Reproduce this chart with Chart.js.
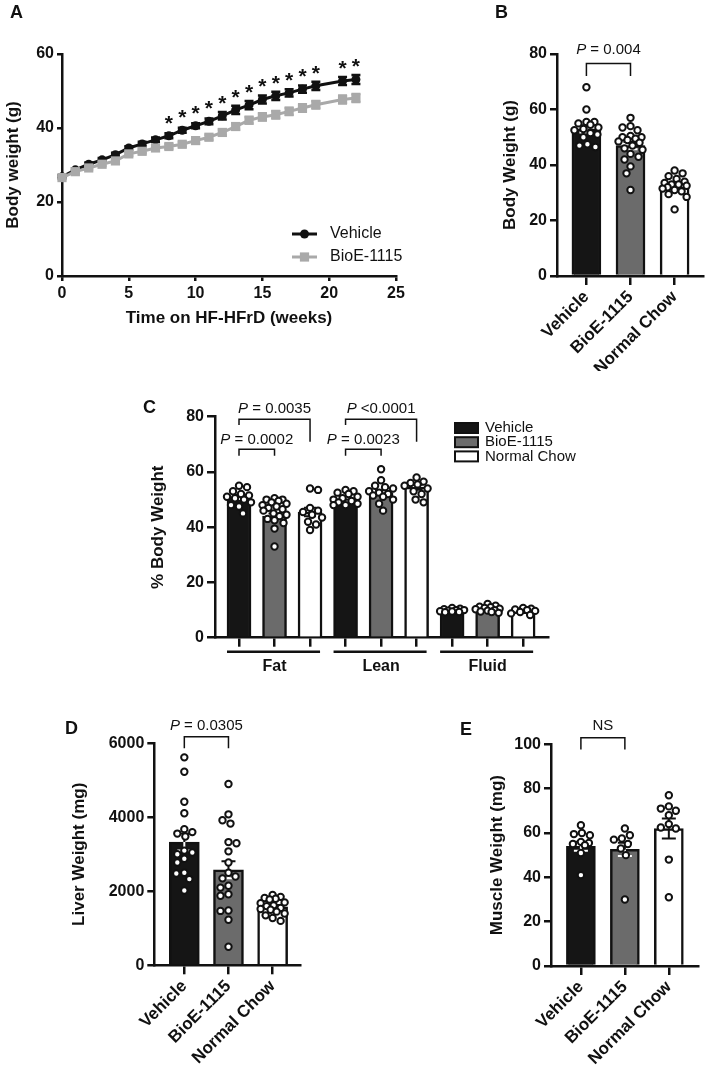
<!DOCTYPE html>
<html>
<head>
<meta charset="utf-8">
<script src="https://cdn.jsdelivr.net/npm/chart.js@4.4.1/dist/chart.umd.min.js"></script>
<style>
  html, body { margin: 0; padding: 0; background: #fff; }
  #wrap { position: relative; width: 709px; height: 1068px; }
  #wrap canvas { position: absolute; left: 0; top: 0; }
</style>
</head>
<body>
<div id="wrap">
  <canvas id="chartA" width="709" height="1068"></canvas>
  <canvas id="chartB" width="709" height="1068"></canvas>
  <canvas id="chartC" width="709" height="1068"></canvas>
  <canvas id="chartD" width="709" height="1068"></canvas>
  <canvas id="chartE" width="709" height="1068"></canvas>
</div>
<script>
// ---- A: body weight over time ----
const weeks = [0, 1, 2, 3, 4, 5, 6, 7, 8, 9, 10, 11, 12, 13, 14, 15, 16, 17, 18, 19, 21, 22]
const vehicleWeight = [26.8, 28.7, 30.2, 31.4, 32.8, 34.6, 35.7, 36.8, 37.9, 39.4, 40.6, 41.8, 43.3, 44.9, 46.2, 47.7, 48.7, 49.5, 50.5, 51.4, 52.7, 53.1]
const vehicleSem = [0.4, 0.4, 0.5, 0.5, 0.5, 0.5, 0.6, 0.6, 0.7, 0.7, 0.7, 0.8, 1.0, 1.1, 1.1, 1.1, 1.1, 1.0, 1.0, 1.1, 1.1, 1.2]
const bioeWeight = [26.6, 28.2, 29.2, 30.2, 31.1, 33.0, 33.7, 34.6, 35.0, 35.6, 36.6, 37.5, 38.8, 40.4, 42.1, 43.0, 43.6, 44.5, 45.4, 46.3, 47.7, 48.1]
const bioeSem = [0.4, 0.4, 0.4, 0.5, 0.5, 0.5, 0.5, 0.6, 0.6, 0.6, 0.7, 0.7, 0.8, 0.9, 0.9, 1.0, 1.0, 1.0, 1.0, 1.0, 1.1, 1.1]
const starWeeks = [8, 9, 10, 11, 12, 13, 14, 15, 16, 17, 18, 19, 21, 22]
const seriesNames = ['Vehicle', 'BioE-1115']

// ---- B: body weight at end ----
const groups = ['Vehicle', 'BioE-1115', 'Normal Chow']
const bodyMean = [53, 47, 32]
const bodySem = [1.3, 1.3, 0.8]
const bodyVehicle = [68, 60, 55.5, 55.5, 55, 54.5, 53.5, 53, 52.5, 51.5, 51, 50, 47.5, 47, 46.5]
const bodyBioe = [57, 54, 53.5, 52.5, 50.5, 50, 50, 49.5, 49, 48.5, 48, 47, 46, 45.5, 44, 43, 42, 39.5, 37, 31]
const bodyChow = [38, 37, 36, 35, 34, 33.5, 33, 33, 32.5, 32, 31.5, 31, 30.5, 29.5, 28.5, 24]

// ---- C: body composition ----
const compParts = ['Fat', 'Lean', 'Fluid']
const fatMean = [51, 44, 45.5]
const leanMean = [49.5, 52.5, 54.5]
const fluidMean = [10, 10.6, 9.4]
const fatVehicle = [55, 54.5, 53, 52, 51.5, 51, 50.5, 50, 49, 48, 47.5, 45]
const fatBioe = [50.5, 50, 50, 49.5, 49, 48.5, 48, 47.5, 47, 46.5, 46, 45, 44.5, 44, 43, 42.5, 41.5, 39.5, 33]
const fatChow = [54, 53.5, 47, 46, 45.5, 44.5, 43.5, 42, 41, 39]
const leanVehicle = [53.5, 53, 52.5, 52, 51, 50.5, 50, 49.5, 49, 48.5, 48, 48]
const leanBioe = [61, 57, 55, 54.5, 54, 53, 52.5, 52, 51.5, 51, 50, 48.5, 46]
const leanChow = [58, 56.5, 56, 55.5, 55, 54, 53, 52, 50, 49]
const fluidVehicle = [10.8, 10.5, 10.3, 10, 10, 9.8, 9.6, 9.5, 9.3, 9.2]
const fluidBioe = [12.2, 11.6, 11.2, 11, 10.8, 10.5, 10.3, 10, 9.8, 9.5, 9.3, 9]
const fluidChow = [10.8, 10.5, 10.2, 10, 9.7, 9.3, 8.8, 8.2]

// ---- D: liver weight ----
const liverMean = [3330, 2580, 1580]
const liverSem = [230, 230, 50]
const liverVehicle = [5620, 5230, 4420, 4110, 3680, 3600, 3560, 3480, 3100, 3050, 3000, 2880, 2780, 2500, 2480, 2330, 2020]
const liverBioe = [4900, 4080, 3920, 3830, 3330, 3300, 3080, 2780, 2500, 2400, 2350, 2150, 2100, 1920, 1880, 1480, 1470, 1230, 500]
const liverChow = [1900, 1850, 1820, 1800, 1780, 1700, 1680, 1620, 1600, 1550, 1520, 1500, 1450, 1400, 1350, 1280, 1200]

// ---- E: muscle weight ----
const muscleMean = [54, 52.6, 62]
const muscleSem = [2, 3, 4.5]
const muscleVehicle = [63.5, 60, 59.5, 59, 56, 55.5, 55, 54.5, 51, 41]
const muscleBioe = [62, 59, 57.5, 57, 55, 53, 50, 30]
const muscleChow = [77, 72, 71, 70, 68, 64, 62.5, 62, 48, 31]

const INK = '#111111'
const FONT = '"Liberation Sans", Arial, Helvetica, sans-serif'
const FILLS = ['#151515', '#6b6b6b', '#ffffff']
const GREY = '#a9a9a9'

function bold(size) { return {family: FONT, size: size, weight: 'bold'} }

function yScale(o) {
  return {
    type: 'linear', position: 'left', min: o.min, max: o.max,
    ticks: {stepSize: o.step, color: INK, font: bold(16), padding: 3, callback: v => String(v)},
    grid: {drawOnChartArea: false, tickLength: o.tick, color: INK, lineWidth: 2.5},
    border: {color: INK, width: 2.5},
    title: {display: true, text: o.title, color: INK, font: bold(17), padding: 0},
    afterFit: s => { s.width = o.width }
  }
}

function indexScale(o) {
  return {
    type: 'linear', position: 'bottom', min: o.min, max: o.max, offset: false,
    afterBuildTicks: s => { s.ticks = o.labels.map((_, i) => ({value: i})) },
    ticks: {autoSkip: false, minRotation: o.rot, maxRotation: o.rot, color: INK, font: bold(17), padding: 2,
            callback: v => o.labels[v] || ''},
    grid: {drawOnChartArea: false, offset: false, tickLength: 9, color: INK, lineWidth: 2.5},
    border: {color: INK, width: 2.5},
    afterFit: s => { s.height = o.height }
  }
}

function padFor(area, yLeft, xHeight) {
  return {left: yLeft, top: area.top, right: 709 - area.right, bottom: 1068 - area.bottom - xHeight}
}

function letter(ctx, txt, x, y) {
  ctx.save()
  ctx.font = 'bold 18px ' + FONT
  ctx.fillStyle = INK
  ctx.textAlign = 'left'
  ctx.textBaseline = 'middle'
  ctx.fillText(txt, x, y)
  ctx.restore()
}

function pText(ctx, cx, cy, rest) {
  ctx.save()
  ctx.fillStyle = INK
  ctx.textAlign = 'left'
  ctx.textBaseline = 'middle'
  const it = 'italic 15px ' + FONT, rg = '15px ' + FONT
  ctx.font = it
  const w1 = rest === 'NS' ? 0 : ctx.measureText('P').width
  ctx.font = rg
  const w2 = ctx.measureText(rest).width
  const x = cx - (w1 + w2) / 2
  if (w1) { ctx.font = it; ctx.fillText('P', x, cy) }
  ctx.font = rg
  ctx.fillText(rest, x + w1, cy)
  ctx.restore()
}

function bracket(chart, b) {
  const {ctx, scales: {x, y}} = chart
  const x1 = x.getPixelForValue(b.from), x2 = x.getPixelForValue(b.to)
  const yb = y.getPixelForValue(b.y)
  ctx.save()
  ctx.strokeStyle = INK
  ctx.lineWidth = 1.5
  ctx.beginPath()
  ctx.moveTo(x1, y.getPixelForValue(b.leg1))
  ctx.lineTo(x1, yb)
  ctx.lineTo(x2, yb)
  ctx.lineTo(x2, y.getPixelForValue(b.leg2))
  ctx.stroke()
  ctx.restore()
  pText(ctx, (x1 + x2) / 2, y.getPixelForValue(b.ty), b.text)
}

function errorBars(chart, means, sems, fills, half) {
  const {ctx, scales: {x, y}} = chart
  ctx.save()
  ctx.lineWidth = 2
  means.forEach((m, i) => {
    const px = x.getPixelForValue(i)
    const ym = y.getPixelForValue(m)
    const yt = y.getPixelForValue(m + sems[i]), yl = y.getPixelForValue(m - sems[i])
    ctx.strokeStyle = INK
    ctx.beginPath()
    ctx.moveTo(px, ym); ctx.lineTo(px, yt)
    ctx.moveTo(px - half, yt); ctx.lineTo(px + half, yt)
    ctx.stroke()
    ctx.strokeStyle = fills[i] === '#ffffff' ? INK : '#ffffff'
    ctx.beginPath()
    ctx.moveTo(px, ym); ctx.lineTo(px, yl)
    ctx.moveTo(px - half, yl); ctx.lineTo(px + half, yl)
    ctx.stroke()
  })
  ctx.restore()
}

// spread dots of one column sideways so they do not sit on top of each other
const swarmPlugin = {
  id: 'swarm',
  afterDatasetsUpdate(chart) {
    chart.data.datasets.forEach((ds, i) => {
      if (ds.type !== 'scatter') return
      const pts = chart.getDatasetMeta(i).data
      const minDist = 7.8, maxOff = 12
      const placed = []
      pts.map((p, k) => k).sort((a, b) => pts[a].y - pts[b].y).forEach((k, n) => {
        const p = pts[k]
        let best = 0, bestD = -1
        for (let s = 0; s <= maxOff; s++) {
          const offs = s === 0 ? [0] : (n % 2 ? [s, -s] : [-s, s])
          let done = false
          for (const off of offs) {
            let d = Infinity
            placed.forEach(q => { d = Math.min(d, Math.hypot(q.x - (p.x + off), q.y - p.y)) })
            if (d >= minDist) { best = off; done = true; break }
            if (d > bestD) { bestD = d; best = off }
          }
          if (done) break
        }
        p.x += best
        placed.push({x: p.x, y: p.y})
      })
    })
  }
}

function dotSet(vals, i) {
  return {
    type: 'scatter', data: vals.map(v => ({x: i, y: v})),
    pointRadius: 3.2, pointBorderWidth: 2, pointBackgroundColor: '#ffffff', pointBorderColor: INK,
    order: 1, clip: false
  }
}

function barSet(means, fills, width) {
  return {
    type: 'bar', data: means.map((m, i) => ({x: i, y: m})),
    backgroundColor: fills, borderColor: INK, borderWidth: 2.5, barThickness: width, order: 2
  }
}

const baseOptions = {
  responsive: false, animation: false, events: [],
  plugins: {legend: {display: false}, tooltip: {enabled: false}}
}

// ---------- Panel A ----------
const areaA = {left: 62, top: 54, right: 396, bottom: 276}
new Chart(document.getElementById('chartA'), {
  type: 'line',
  data: {
    datasets: [
      {label: seriesNames[0], data: weeks.map((w, i) => ({x: w, y: vehicleWeight[i]})),
       borderColor: INK, backgroundColor: INK, borderWidth: 3, pointStyle: 'circle', pointRadius: 4.5,
       pointBorderWidth: 0, order: 2, clip: false},
      {label: seriesNames[1], data: weeks.map((w, i) => ({x: w, y: bioeWeight[i]})),
       borderColor: GREY, backgroundColor: GREY, borderWidth: 3, pointStyle: 'rect', pointRadius: 6.5,
       pointBorderWidth: 0, order: 1, clip: false}
    ]
  },
  options: {
    ...baseOptions,
    layout: {padding: padFor(areaA, 3, 53)},
    scales: {
      x: {
        type: 'linear', min: 0, max: 25,
        ticks: {stepSize: 5, color: INK, font: bold(16), padding: 3},
        grid: {drawOnChartArea: false, tickLength: 5, color: INK, lineWidth: 2.5},
        border: {color: INK, width: 2.5},
        title: {display: true, text: 'Time on HF-HFrD (weeks)', color: INK, font: bold(17), padding: 0},
        afterFit: s => { s.height = 53 }
      },
      y: yScale({min: 0, max: 60, step: 20, tick: 5, title: 'Body weight (g)', width: areaA.left - 3})
    }
  },
  plugins: [{
    id: 'panelA',
    beforeDatasetDraw(chart, args) {
      const {ctx, scales: {x, y}} = chart
      const vals = args.index === 0 ? vehicleWeight : bioeWeight
      const sems = args.index === 0 ? vehicleSem : bioeSem
      ctx.save()
      ctx.strokeStyle = args.index === 0 ? INK : GREY
      ctx.lineWidth = 2.5
      ctx.beginPath()
      weeks.forEach((w, i) => {
        const px = x.getPixelForValue(w)
        const yt = y.getPixelForValue(vals[i] + sems[i]), yl = y.getPixelForValue(vals[i] - sems[i])
        ctx.moveTo(px, yt); ctx.lineTo(px, yl)
        ctx.moveTo(px - 4.5, yt); ctx.lineTo(px + 4.5, yt)
        ctx.moveTo(px - 4.5, yl); ctx.lineTo(px + 4.5, yl)
      })
      ctx.stroke()
      ctx.restore()
    },
    afterDraw(chart) {
      const {ctx, chartArea: ca, scales: {x, y}} = chart
      ctx.save()
      ctx.fillStyle = INK
      ctx.font = 'bold 21px ' + FONT
      ctx.textAlign = 'center'
      ctx.textBaseline = 'middle'
      starWeeks.forEach(w => {
        const i = weeks.indexOf(w)
        ctx.fillText('*', x.getPixelForValue(w), y.getPixelForValue(vehicleWeight[i]) - 12)
      })
      // legend
      const rows = [{y: ca.bottom - 42, c: INK, sq: false}, {y: ca.bottom - 19, c: GREY, sq: true}]
      rows.forEach((r, k) => {
        const x0 = ca.left + 230, x1 = ca.left + 255, xm = (x0 + x1) / 2
        ctx.strokeStyle = r.c
        ctx.fillStyle = r.c
        ctx.lineWidth = 3
        ctx.beginPath(); ctx.moveTo(x0, r.y); ctx.lineTo(x1, r.y); ctx.stroke()
        if (r.sq) ctx.fillRect(xm - 4.6, r.y - 4.6, 9.2, 9.2)
        else { ctx.beginPath(); ctx.arc(xm, r.y, 4.5, 0, Math.PI * 2); ctx.fill() }
        ctx.fillStyle = INK
        ctx.font = '16px ' + FONT
        ctx.textAlign = 'left'
        ctx.fillText(seriesNames[k], ca.left + 268, r.y)
      })
      ctx.restore()
      letter(ctx, 'A', 10, 13)
    }
  }]
})

// ---------- bar panels B, D, E ----------
function barPanel(id, p) {
  const datasets = [barSet(p.means, FILLS, p.barWidth)]
  p.dots.forEach((vals, i) => datasets.push(dotSet(vals, i)))
  new Chart(document.getElementById(id), {
    type: 'bar',
    data: {datasets},
    options: {
      ...baseOptions,
      layout: {padding: padFor(p.area, p.yLeft, p.xHeight)},
      scales: {
        x: indexScale({min: p.xmin, max: p.xmax, labels: groups, rot: 45, height: p.xHeight}),
        y: yScale({min: 0, max: p.ymax, step: p.step, tick: 7, title: p.title, width: p.area.left - p.yLeft})
      }
    },
    plugins: [swarmPlugin, {
      id: 'deco',
      afterDatasetDraw(chart, args) {
        if (args.index === 0) errorBars(chart, p.means, p.sems, FILLS, 7)
      },
      afterDraw(chart) {
        bracket(chart, p.bracket)
        letter(chart.ctx, p.letter[0], p.letter[1], p.letter[2])
      }
    }]
  })
}

barPanel('chartB', {
  area: {left: 557, top: 54, right: 706, bottom: 276}, yLeft: 500, xHeight: 95,
  xmin: -0.667, xmax: 2.644, ymax: 80, step: 20, title: 'Body Weight (g)', barWidth: 29,
  means: bodyMean, sems: bodySem, dots: [bodyVehicle, bodyBioe, bodyChow],
  bracket: {from: 0, to: 1, y: 76.6, leg1: 72.1, leg2: 72.1, ty: 81.4, text: ' = 0.004'},
  letter: ['B', 495, 13]
})

barPanel('chartD', {
  area: {left: 154.3, top: 743.3, right: 300, bottom: 965.3}, yLeft: 69, xHeight: 100,
  xmin: -0.68, xmax: 2.62, ymax: 6000, step: 2000, title: 'Liver Weight (mg)', barWidth: 30,
  means: liverMean, sems: liverSem, dots: [liverVehicle, liverBioe, liverChow],
  bracket: {from: 0, to: 1, y: 6179, leg1: 5865, leg2: 5865, ty: 6468, text: ' = 0.0305'},
  letter: ['D', 65, 729]
})

barPanel('chartE', {
  area: {left: 551, top: 744.3, right: 698.3, bottom: 966}, yLeft: 487, xHeight: 100,
  xmin: -0.68, xmax: 2.67, ymax: 100, step: 20, title: 'Muscle Weight (mg)', barWidth: 29,
  means: muscleMean, sems: muscleSem, dots: [muscleVehicle, muscleBioe, muscleChow],
  bracket: {from: 0, to: 1, y: 103, leg1: 97.7, leg2: 97.7, ty: 108.3, text: 'NS'},
  letter: ['E', 460, 730]
})

// ---------- Panel C ----------
const areaC = {left: 215, top: 416.7, right: 548, bottom: 637.7}
const compMeans = [...fatMean, ...leanMean, ...fluidMean]
const compSems = [0.8, 1.0, 1.5, 0.5, 0.9, 0.9, 0.2, 0.3, 0.3]
const compFills = [...FILLS, ...FILLS, ...FILLS]
const compDots = [fatVehicle, fatBioe, fatChow, leanVehicle, leanBioe, leanChow, fluidVehicle, fluidBioe, fluidChow]
const compBrackets = [
  {from: 0, to: 2, y: 79.1, leg1: 77.0, leg2: 70.9, ty: 82.8, text: ' = 0.0035'},
  {from: 0, to: 1, y: 68.2, leg1: 65.9, leg2: 65.9, ty: 71.6, text: ' = 0.0002'},
  {from: 3, to: 5, y: 79.1, leg1: 77.0, leg2: 70.9, ty: 82.8, text: ' <0.0001'},
  {from: 3, to: 4, y: 68.2, leg1: 65.9, leg2: 65.9, ty: 71.6, text: ' = 0.0023'}
]
new Chart(document.getElementById('chartC'), {
  type: 'bar',
  data: {datasets: [barSet(compMeans, compFills, 24), ...compDots.map((v, i) => dotSet(v, i))]},
  options: {
    ...baseOptions,
    layout: {padding: padFor(areaC, 148, 40)},
    scales: {
      x: indexScale({min: -0.676, max: 8.70, labels: compMeans.map(() => ''), rot: 0, height: 40}),
      y: yScale({min: 0, max: 80, step: 20, tick: 8, title: '% Body Weight', width: areaC.left - 148})
    }
  },
  plugins: [swarmPlugin, {
    id: 'decoC',
    afterDatasetDraw(chart, args) {
      if (args.index === 0) errorBars(chart, compMeans, compSems, compFills, 6)
    },
    afterDraw(chart) {
      const {ctx, chartArea: ca, scales: {x}} = chart
      compBrackets.forEach(b => bracket(chart, b))
      ctx.save()
      // group underlines and names
      compParts.forEach((name, g) => {
        const a = x.getPixelForValue(g * 3) - 12, b = x.getPixelForValue(g * 3 + 2) + 10
        ctx.strokeStyle = INK
        ctx.lineWidth = 2.5
        ctx.beginPath(); ctx.moveTo(a, ca.bottom + 14); ctx.lineTo(b, ca.bottom + 14); ctx.stroke()
        ctx.fillStyle = INK
        ctx.font = 'bold 16px ' + FONT
        ctx.textAlign = 'center'
        ctx.textBaseline = 'middle'
        ctx.fillText(name, x.getPixelForValue(g * 3 + 1), ca.bottom + 29)
      })
      // legend
      groups.forEach((name, k) => {
        const cy = ca.top + 11.3 + k * 14.2
        ctx.fillStyle = FILLS[k]
        ctx.fillRect(ca.right - 93, cy - 5, 23, 10)
        ctx.strokeStyle = INK
        ctx.lineWidth = 2
        ctx.strokeRect(ca.right - 93, cy - 5, 23, 10)
        ctx.fillStyle = INK
        ctx.font = '15px ' + FONT
        ctx.textAlign = 'left'
        ctx.textBaseline = 'middle'
        ctx.fillText(name, ca.right - 63, cy)
      })
      ctx.restore()
      letter(ctx, 'C', 143, 408)
    }
  }]
})
</script>
</body>
</html>
